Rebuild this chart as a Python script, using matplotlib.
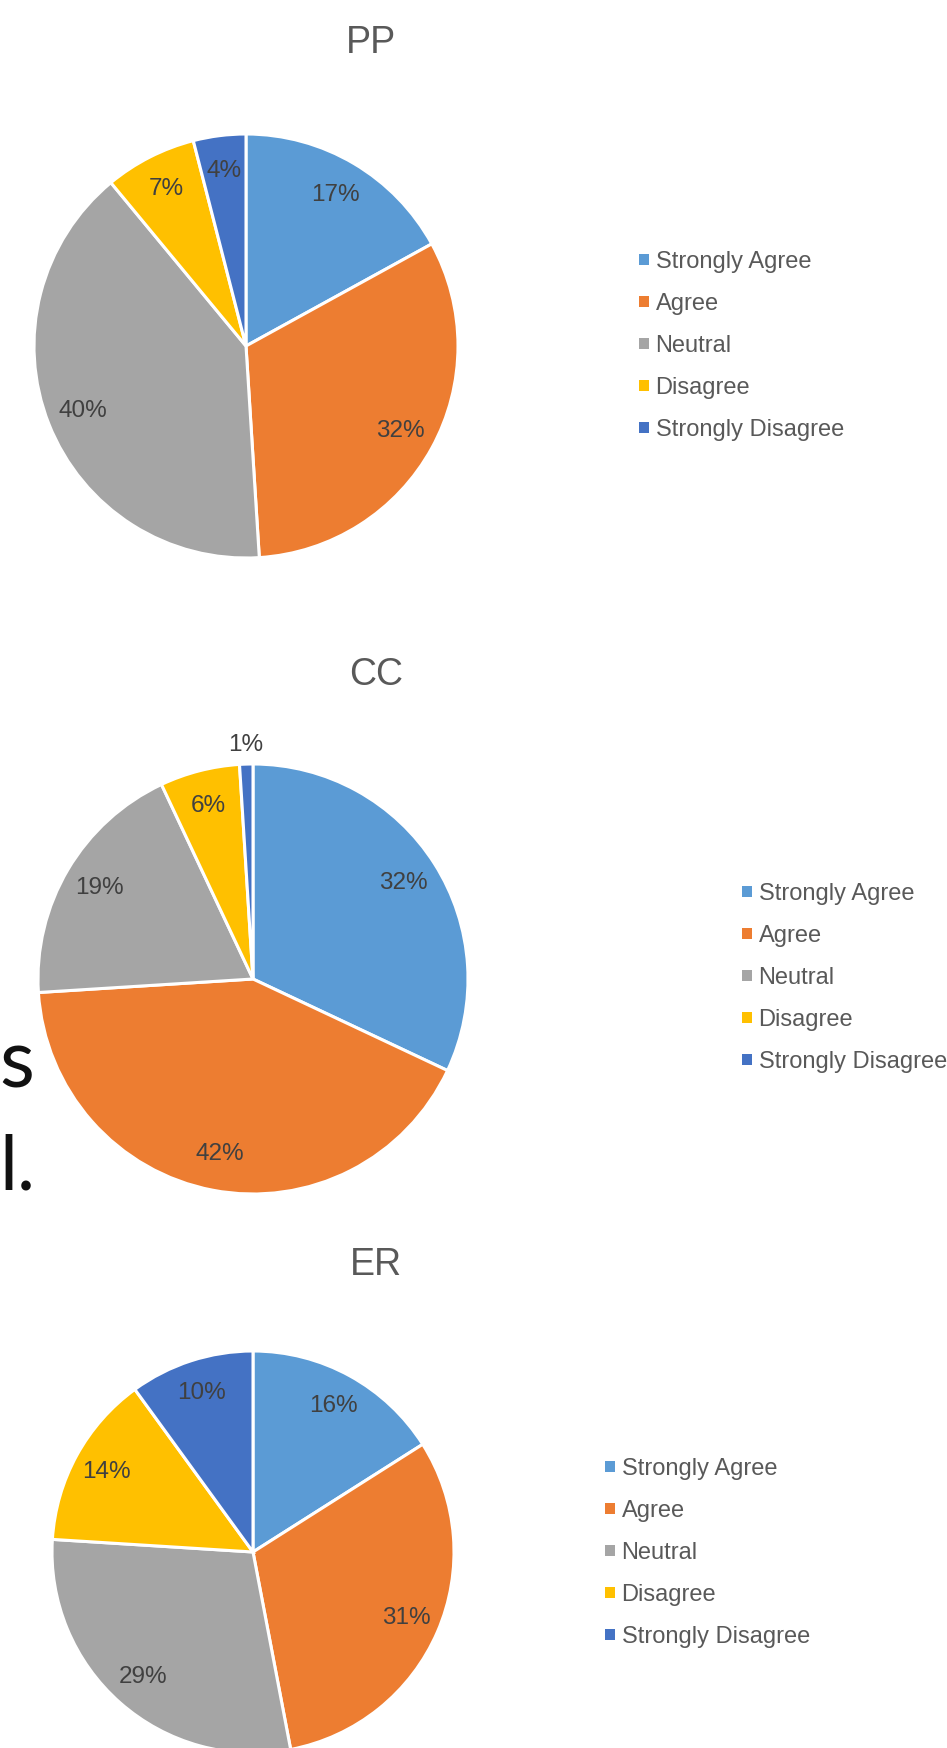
import matplotlib.pyplot as plt
from matplotlib.patches import Patch
import numpy as np

categories = ['Strongly Agree', 'Agree', 'Neutral', 'Disagree', 'Strongly Disagree']
colors = ['#5B9BD5', '#ED7D31', '#A5A5A5', '#FFC000', '#4472C4']

# percentage of responses per survey section
pp_values = [17, 32, 40, 7, 4]
cc_values = [32, 42, 19, 6, 1]
er_values = [16, 31, 29, 14, 10]

W, H = 947, 1748
plt.rcParams['font.family'] = ['Liberation Sans', 'DejaVu Sans']
fig = plt.figure(figsize=(W / 100, H / 100), dpi=100)

# title, values, pie centre (px), radius (px), title pos (px), legend anchor (px)
charts = [
    ('PP', pp_values, (246, 346), 212, (371, 43), (639, 346)),
    ('CC', cc_values, (253, 979), 215, (376, 675), (742, 978)),
    ('ER', er_values, (253, 1552), 201, (376, 1265), (605, 1553)),
]

# bits of the slide text sitting behind the charts
fig.text(34 / W, 1 - 1088 / H, 's', ha='right', va='baseline',
         fontsize=58, family='Lato', color='#111111')
fig.text(35 / W, 1 - 1190 / H, 'l.', ha='right', va='baseline',
         fontsize=55, family='Lato', color='#111111')

for title, values, (cx, cy), r, (tx, ty), (lx, ly) in charts:
    ax = fig.add_axes([(cx - r) / W, 1 - (cy + r) / H, 2 * r / W, 2 * r / H])
    wedges, _ = ax.pie(values, colors=colors, startangle=90, counterclock=False,
                       radius=1, wedgeprops=dict(edgecolor='white', linewidth=2.2))
    ax.set_xlim(-1, 1)
    ax.set_ylim(-1, 1)
    ax.axis('off')

    # data labels: inside the slice, tiny slices get pushed outside
    for w, v in zip(wedges, values):
        ang = np.deg2rad((w.theta1 + w.theta2) / 2)
        d = 0.83 if v >= 2 else 1.09
        ax.text(d * np.cos(ang), d * np.sin(ang), f'{v}%', ha='center', va='center',
                fontsize=17.5, color='#404040', clip_on=False)

    fig.text(tx / W, 1 - ty / H, title, ha='center', va='center',
             fontsize=27, color='#595959')

    handles = [Patch(facecolor=c, edgecolor='none') for c in colors]
    fig.legend(handles, categories, loc='center left',
               bbox_to_anchor=(lx / W, 1 - ly / H), frameon=False,
               borderpad=0, borderaxespad=0, handlelength=0.42, handleheight=0.35,
               handletextpad=0.28, labelspacing=0.84, fontsize=17,
               labelcolor='#595959')

fig.savefig('out.png', dpi=100)
